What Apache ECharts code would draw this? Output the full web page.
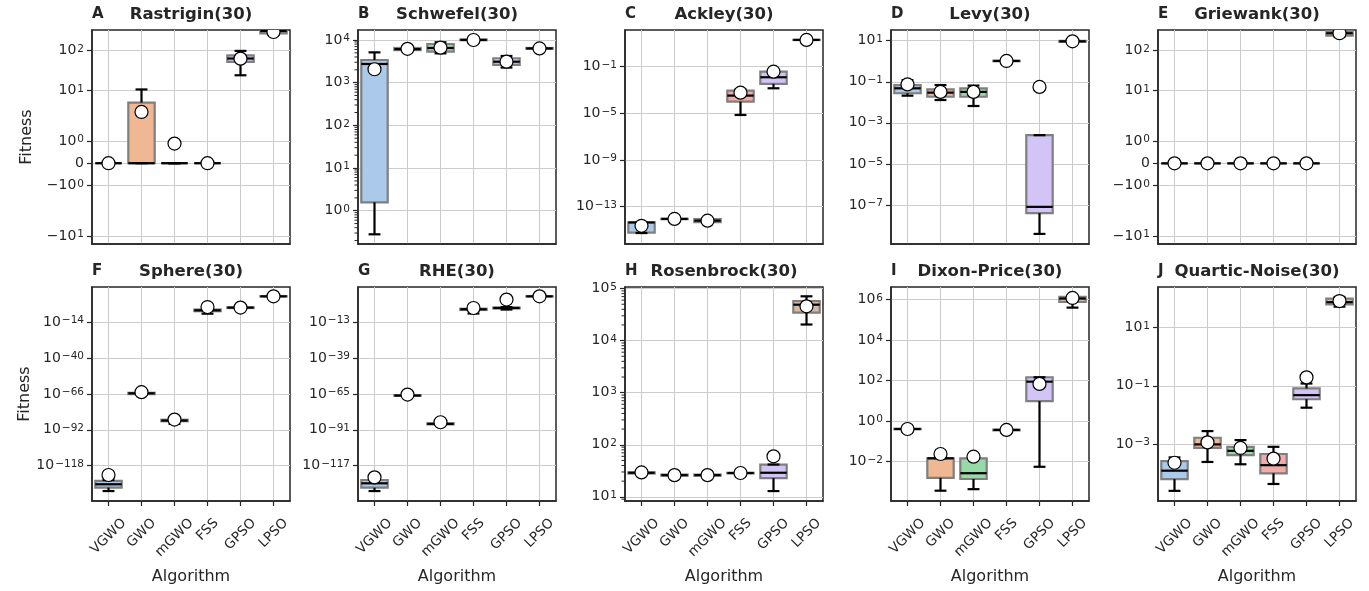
<!DOCTYPE html>
<html>
<head>
<meta charset="utf-8">
<script src="https://cdn.jsdelivr.net/npm/echarts@6/dist/echarts.min.js"></script>
<style>html,body{margin:0;padding:0;background:#fff}#chart{width:1369px;height:591px}</style>
</head>
<body>
<div id="chart"></div>
<script>
// ---------------- data ----------------
const algorithms = ['VGWO', 'GWO', 'mGWO', 'FSS', 'GPSO', 'LPSO'];
const panelLetters = ['A', 'B', 'C', 'D', 'E', 'F', 'G', 'H', 'I', 'J'];
const panelTitles = ['Rastrigin(30)', 'Schwefel(30)', 'Ackley(30)', 'Levy(30)', 'Griewank(30)',
  'Sphere(30)', 'RHE(30)', 'Rosenbrock(30)', 'Dixon-Price(30)', 'Quartic-Noise(30)'];

// each row: [min, Q1, median, Q3, max] per algorithm
const rastriginBox = [[0,0,0,0,0],[0,0,0,5.0,10.6],[0,0,0,0,0],[0,0,0,0,0],[23.9,51.3,62.4,75.1,96.6],[250,262,300,325,350]];
const rastriginMean = [0, 2.92, 0.88, 0, 62, 285];
const schwefelBox = [[0.28,1.57,2740,3400,5130],[5300,5800,6100,6500,6900],[4870,5320,6500,8050,8840],[9600,9850,10050,10250,10500],[2260,2600,3100,3730,4220],[6000,6200,6350,6500,6700]];
const schwefelMean = [2060, 6200, 6600, 10000, 3100, 6350];
const ackleyBox = [[5.5e-16,6e-16,4.4e-15,4.6e-15,4.6e-15],[8.0e-15,8.4e-15,8.9e-15,9.3e-15,9.6e-15],[4.4e-15,4.6e-15,6.3e-15,8.5e-15,9.0e-15],[7.2e-6,1.0e-4,3.3e-4,8.7e-4,1.15e-3],[1.4e-3,3.3e-3,1.23e-2,3.7e-2,5e-2],[18.5,19.0,19.5,19.9,20.2]];
const ackleyMean = [2.3e-15, 8.9e-15, 6.3e-15, 5.9e-4, 3.7e-2, 19.5];
const levyBox = [[0.021,0.0275,0.048,0.069,0.12],[0.0129,0.0186,0.0295,0.0427,0.069],[0.0066,0.0186,0.032,0.048,0.065],[0.95,1.0,1.03,1.06,1.1],[3.9e-9,4e-8,8.1e-8,2.5e-4,2.5e-4],[8.3,8.8,9.3,9.8,10.3]];
const levyMean = [0.074, 0.032, 0.032, 1.03, 0.056, 9.3];
const griewankBox = [[0,0,0,0,0],[0,0,0,0,0],[0,0,0,0,0],[0,0,0,0,0],[0,0,0,0,0],[215,232,266,302,335]];
const griewankMean = [0, 0, 0, 0, 0, 266];
const sphereBox = [[5e-137,1.6e-134,4e-132,1e-129,5e-129],[3e-67,6e-67,2.5e-66,6e-66,1.2e-65],[2e-88,1.5e-86,5e-86,2e-85,8e-85],[1e-8,6e-7,2.8e-6,1e-5,2e-5],[5e-5,1.2e-4,2.5e-4,4e-4,6e-4],[2.5e4,3e4,3.5e4,4e4,4.6e4]];
const sphereMean = [2e-125, 1.6e-65, 2.5e-85, 6.3e-4, 2.5e-4, 3.5e4];
const rheBox = [[5e-136,1.3e-133,2e-130,5e-128,1e-127],[2e-67,4e-67,6e-67,1.2e-66,2e-66],[3e-88,8e-88,2e-87,5e-87,1e-86],[1.3e-7,5e-5,1.6e-4,4e-4,8e-4],[1e-4,6e-4,1.3e-3,3e-3,6e-3],[2.5e5,3e5,3.5e5,4e5,4.6e5]];
const rheMean = [4e-126, 3e-66, 3e-86, 1.3e-3, 1.6e3, 3.5e5];
const rosenbrockBox = [[27,28,29,29.5,30],[25,25.5,26.1,26.8,27.5],[25,25.5,26.1,26.8,27.5],[27.5,28.2,28.7,28.9,29],[12.9,22.9,29,41.7,41.7],[20400,34600,49000,57700,71000]];
const rosenbrockMean = [29.4, 26.1, 26.1, 28.7, 60, 45600];
const dixonBox = [[0.38,0.40,0.41,0.42,0.44],[0.00037,0.0016,0.0147,0.0147,0.0147],[0.00044,0.0014,0.0027,0.0147,0.0147],[0.34,0.35,0.37,0.38,0.40],[0.0056,9.7,89,147,147],[4e5,7.6e5,1.12e6,1.35e6,1.4e6]];
const dixonMean = [0.41, 0.024, 0.0177, 0.37, 69, 1.2e6];
const quarticBox = [[2.5e-5,6.3e-5,1.23e-4,2.6e-4,3.5e-4],[2.45e-4,7.4e-4,9.8e-4,1.66e-3,2.8e-3],[2.04e-4,4.2e-4,5.9e-4,8.1e-4,1.38e-3],[4.3e-5,1e-4,1.9e-4,4.6e-4,8.1e-4],[0.0178,0.0347,0.0479,0.0813,0.12],[52,62,74,98,112]];
const quarticMean = [2.3e-4, 1.15e-3, 7.4e-4, 3.2e-4, 0.195, 81];

// y tick labels (raw values)
const symlogTicks = [-10, -1, 0, 1, 10, 100];
const schwefelTicks = [1, 10, 100, 1000, 10000];
const ackleyTicks = [1e-13, 1e-9, 1e-5, 1e-1];
const levyTicks = [1e-7, 1e-5, 1e-3, 1e-1, 10];
const sphereTicks = [1e-118, 1e-92, 1e-66, 1e-40, 1e-14];
const rheTicks = [1e-117, 1e-91, 1e-65, 1e-39, 1e-13];
const rosenbrockTicks = [10, 100, 1000, 1e4, 1e5];
const dixonTicks = [1e-2, 1, 100, 1e4, 1e6];
const quarticTicks = [1e-3, 1e-1, 10];

// ---------------- scales ----------------
const LINTHRESH = 2, LINSCALE_ADJ = 1 / (1 - 0.1);
function symlog(v) {
  const a = Math.abs(v);
  if (a <= LINTHRESH) return v * LINSCALE_ADJ;
  return Math.sign(v) * LINTHRESH * (LINSCALE_ADJ + Math.log10(a / LINTHRESH));
}
function logt(v) { return Math.log10(v); }

const boxColors = ['#abc9ea', '#efb792', '#98daa7', '#f3aba8', '#d3c4f7', '#d6bba3'];
const TXT = '#262626';
const FONT = 'DejaVu Sans';
const XFS = 13.5;

const panels = [
  {box: rastriginBox, mean: rastriginMean, tf: symlog, ticks: symlogTicks, range: [-4.02, 6.63]},
  {box: schwefelBox, mean: schwefelMean, tf: logt, ticks: schwefelTicks, range: [-0.78, 4.234], minor: true},
  {box: ackleyBox, mean: ackleyMean, tf: logt, ticks: ackleyTicks, range: [-16.2, 2.14]},
  {box: levyBox, mean: levyMean, tf: logt, ticks: levyTicks, range: [-8.9, 1.52]},
  {box: griewankBox, mean: griewankMean, tf: symlog, ticks: symlogTicks, range: [-4.01, 6.63]},
  {box: sphereBox, mean: sphereMean, tf: logt, ticks: sphereTicks, range: [-143.5, 11.3]},
  {box: rheBox, mean: rheMean, tf: logt, ticks: rheTicks, range: [-142.5, 12.3]},
  {box: rosenbrockBox, mean: rosenbrockMean, tf: logt, ticks: rosenbrockTicks, range: [0.92, 5.03], minor: true},
  {box: dixonBox, mean: dixonMean, tf: logt, ticks: dixonTicks, range: [-3.94, 6.62]},
  {box: quarticBox, mean: quarticMean, tf: logt, ticks: quarticTicks, range: [-4.95, 2.39]}
];

const lefts = [92, 358, 625, 891, 1158];
const tops = [30, 287];
const PW = 198, PH = 214;
const unitPx = PW / 6;

// rotated labels are centred on their tick (matplotlib style): shift each label anchor by 0.354 * text length
const measureCtx = document.createElement('canvas').getContext('2d');
measureCtx.font = XFS + 'px ' + FONT;
const labelShift = algorithms.map(a => 0.3536 * measureCtx.measureText(a).width / unitPx);
const labelPositions = algorithms.map((a, k) => k + labelShift[k]);

function tickLabel(v) {
  if (v === 0) return '{b|0}';
  const e = Math.round(Math.log10(Math.abs(v)));
  const es = (e < 0 ? '\u2212' + (-e) : '' + e);
  return '{b|' + (v < 0 ? '\u221210' : '10') + '}{s|' + es + '}';
}

const option = {
  animation: false,
  backgroundColor: '#fff',
  grid: [], xAxis: [], yAxis: [], series: [], graphic: []
};

panels.forEach((p, i) => {
  const row = i < 5 ? 0 : 1, col = i % 5;
  const left = lefts[col], top = tops[row];
  option.grid.push({left: left, top: top, width: PW, height: PH, show: true,
    borderColor: TXT, borderWidth: 1.5, backgroundColor: 'transparent', containLabel: false});
  const tvals = p.ticks.map(p.tf);
  const labelOf = (val) => {
    let best = 0, bd = Infinity;
    tvals.forEach((t, k) => { const d = Math.abs(t - val); if (d < bd) { bd = d; best = k; } });
    return tickLabel(p.ticks[best]);
  };
  const xLabelOf = (val) => {
    let best = 0, bd = Infinity;
    labelPositions.forEach((t, k) => { const d = Math.abs(t - val); if (d < bd) { bd = d; best = k; } });
    return algorithms[best];
  };
  option.xAxis.push({
    type: 'value', gridIndex: i, min: -0.5, max: 5.5,
    axisLine: {show: true, onZero: false, lineStyle: {color: TXT, width: 1.5}},
    axisTick: {show: row === 1, customValues: [0, 1, 2, 3, 4, 5], length: 5, lineStyle: {color: TXT, width: 1.2}},
    axisLabel: {show: row === 1, customValues: labelPositions, rotate: 45, margin: 20,
      fontSize: XFS, fontFamily: FONT, color: TXT, formatter: xLabelOf},
    splitLine: {show: true, lineStyle: {color: '#cccccc', width: 1}},
    name: row === 1 ? 'Algorithm' : '', nameLocation: 'middle', nameGap: 68,
    nameTextStyle: {fontSize: 16, fontFamily: FONT, color: TXT}
  });
  option.yAxis.push({
    type: 'value', gridIndex: i, min: p.range[0], max: p.range[1],
    axisLine: {show: true, onZero: false, lineStyle: {color: TXT, width: 1.5}},
    axisTick: {show: true, customValues: tvals, length: 5, lineStyle: {color: TXT, width: 1.2}},
    axisLabel: {show: true, customValues: tvals, margin: 8, formatter: labelOf,
      rich: {
        b: {fontSize: 14, fontFamily: FONT, color: TXT, lineHeight: 14},
        s: {fontSize: 10.5, fontFamily: FONT, color: TXT, lineHeight: 8, verticalAlign: 'top', padding: [0, 0, 0, 1]}
      }},
    splitLine: {show: true, lineStyle: {color: '#cccccc', width: 1}},
    name: col === 0 ? 'Fitness' : '', nameLocation: 'middle', nameGap: 57, nameRotate: 90,
    nameTextStyle: {fontSize: 16, fontFamily: FONT, color: TXT}
  });
  const data = p.box.map((b, k) => [k, p.tf(b[0]), p.tf(b[1]), p.tf(b[2]), p.tf(b[3]), p.tf(b[4]), p.tf(p.mean[k])]);
  option.series.push({
    type: 'custom', xAxisIndex: i, yAxisIndex: i, clip: true, data: data,
    encode: {x: 0, y: [1, 2, 3, 4, 5, 6]},
    renderItem: function (params, api) {
      const x = api.value(0);
      const c = (k) => api.coord([x, api.value(k)]);
      const cx = c(3)[0];
      const bw = api.size([1, 0])[0] * 0.8;
      const cw = bw * 0.45;
      const yMin = c(1)[1], yQ1 = c(2)[1], yMed = c(3)[1], yQ3 = c(4)[1], yMax = c(5)[1], yMean = c(6)[1];
      const black = {stroke: '#000', lineWidth: 2.2, fill: null};
      return {
        type: 'group',
        children: [
          {type: 'rect', shape: {x: cx - bw / 2, y: yQ3, width: bw, height: yQ1 - yQ3},
            style: {fill: boxColors[params.dataIndex], stroke: '#7f7f7f', lineWidth: 2.2}},
          {type: 'line', shape: {x1: cx, y1: yQ1, x2: cx, y2: yMin}, style: black},
          {type: 'line', shape: {x1: cx, y1: yQ3, x2: cx, y2: yMax}, style: black},
          {type: 'line', shape: {x1: cx - cw / 2, y1: yMin, x2: cx + cw / 2, y2: yMin}, style: black},
          {type: 'line', shape: {x1: cx - cw / 2, y1: yMax, x2: cx + cw / 2, y2: yMax}, style: black},
          {type: 'line', shape: {x1: cx - bw / 2, y1: yMed, x2: cx + bw / 2, y2: yMed}, style: black},
          {type: 'circle', shape: {cx: cx, cy: yMean, r: 6.5}, style: {fill: '#fff', stroke: '#000', lineWidth: 1.2}}
        ]
      };
    }
  });
  if (p.minor) {
    // log minor ticks (2..9 x 10^n) on the left spine
    const mv = [];
    for (let e = Math.floor(p.range[0]) - 1; e <= Math.ceil(p.range[1]); e++) {
      for (let k = 2; k <= 9; k++) {
        const t = Math.log10(k * Math.pow(10, e));
        if (t > p.range[0] && t < p.range[1]) mv.push([-0.5, t]);
      }
    }
    option.series.push({
      type: 'custom', xAxisIndex: i, yAxisIndex: i, clip: false, z: 5, data: mv,
      encode: {x: 0, y: 1}, silent: true,
      renderItem: function (params, api) {
        const pt = api.coord([api.value(0), api.value(1)]);
        return {type: 'line', shape: {x1: pt[0] - 3.5, y1: pt[1], x2: pt[0], y2: pt[1]},
          style: {stroke: TXT, lineWidth: 1}};
      }
    });
  }
  // panel letter and title
  option.graphic.push({type: 'text', left: left, top: top - 23,
    style: {text: panelLetters[i], font: 'bold 15px ' + FONT, fill: TXT}});
  option.graphic.push({type: 'text', x: left + PW / 2, y: top - 15,
    style: {text: panelTitles[i], font: 'bold 16.5px ' + FONT, fill: TXT, textAlign: 'center', textVerticalAlign: 'middle'}});
});

const chart = echarts.init(document.getElementById('chart'), null, {renderer: 'canvas'});
chart.setOption(option);
</script>
</body>
</html>
